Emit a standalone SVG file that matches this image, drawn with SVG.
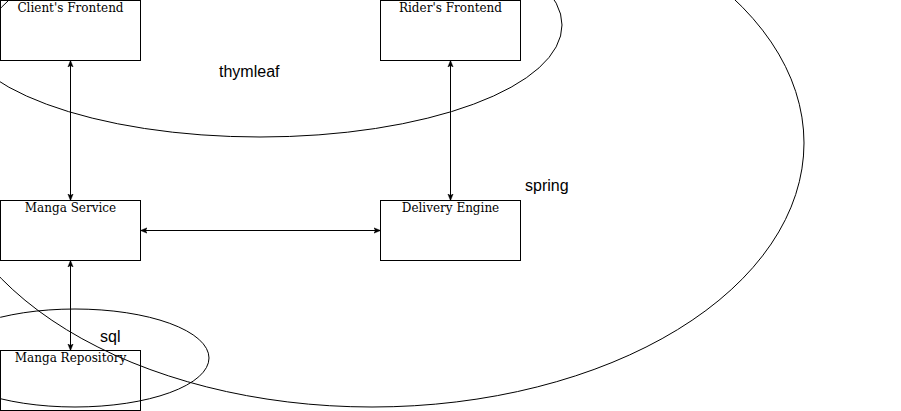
<svg xmlns="http://www.w3.org/2000/svg" width="901" height="411" viewBox="0 0 901 411">
<defs>
<style>
.box{fill:#fff;stroke:#000;stroke-width:1}
.lbl{font-family:"DejaVu Serif",serif;font-size:12px;text-anchor:middle;fill:#000}
.grp{fill:none;stroke:#000;stroke-width:1}
.gl{font-family:"Liberation Sans",Arial,sans-serif;font-size:16px;fill:#000}
.edge{fill:none;stroke:#000;stroke-width:1}
</style>
<marker id="ah" viewBox="0 0 10 10" refX="9" refY="5" markerWidth="7" markerHeight="7" orient="auto-start-reverse" markerUnits="userSpaceOnUse">
<path d="M0,1 L10,5 L0,9 L2.5,5 Z" fill="#000" stroke="#000" stroke-width="0.5"/>
</marker>
</defs>
<g id="client-frontend"><rect class="box" x="0.5" y="0.5" width="140" height="60"/><text class="lbl" x="70.5" y="12">Client's Frontend</text></g>
<g id="rider-frontend"><rect class="box" x="380.5" y="0.5" width="140" height="60"/><text class="lbl" x="450.5" y="12">Rider's Frontend</text></g>
<g id="manga-service"><rect class="box" x="0.5" y="200.5" width="140" height="60"/><text class="lbl" x="70.5" y="212">Manga Service</text></g>
<g id="delivery-engine"><rect class="box" x="380.5" y="200.5" width="140" height="60"/><text class="lbl" x="450.5" y="212">Delivery Engine</text></g>
<g id="manga-repository"><rect class="box" x="0.5" y="350.5" width="140" height="60"/><text class="lbl" x="70.5" y="362">Manga Repository</text></g>
<g id="thymleaf"><ellipse class="grp" cx="260" cy="25" rx="302" ry="112"/><text class="gl" x="219" y="77">thymleaf</text></g>
<g id="spring"><ellipse class="grp" cx="372" cy="143" rx="432" ry="264"/><text class="gl" x="525" y="191">spring</text></g>
<g id="sql"><ellipse class="grp" cx="75" cy="358" rx="134" ry="49"/><text class="gl" x="100" y="342">sql</text></g>
<g id="connectors">
<line class="edge" x1="70.5" y1="61" x2="70.5" y2="200" marker-start="url(#ah)" marker-end="url(#ah)"/>
<line class="edge" x1="450.5" y1="61" x2="450.5" y2="200" marker-start="url(#ah)" marker-end="url(#ah)"/>
<line class="edge" x1="141" y1="230.5" x2="380" y2="230.5" marker-start="url(#ah)" marker-end="url(#ah)"/>
<line class="edge" x1="70.5" y1="261" x2="70.5" y2="350" marker-start="url(#ah)" marker-end="url(#ah)"/>
</g>
</svg>
